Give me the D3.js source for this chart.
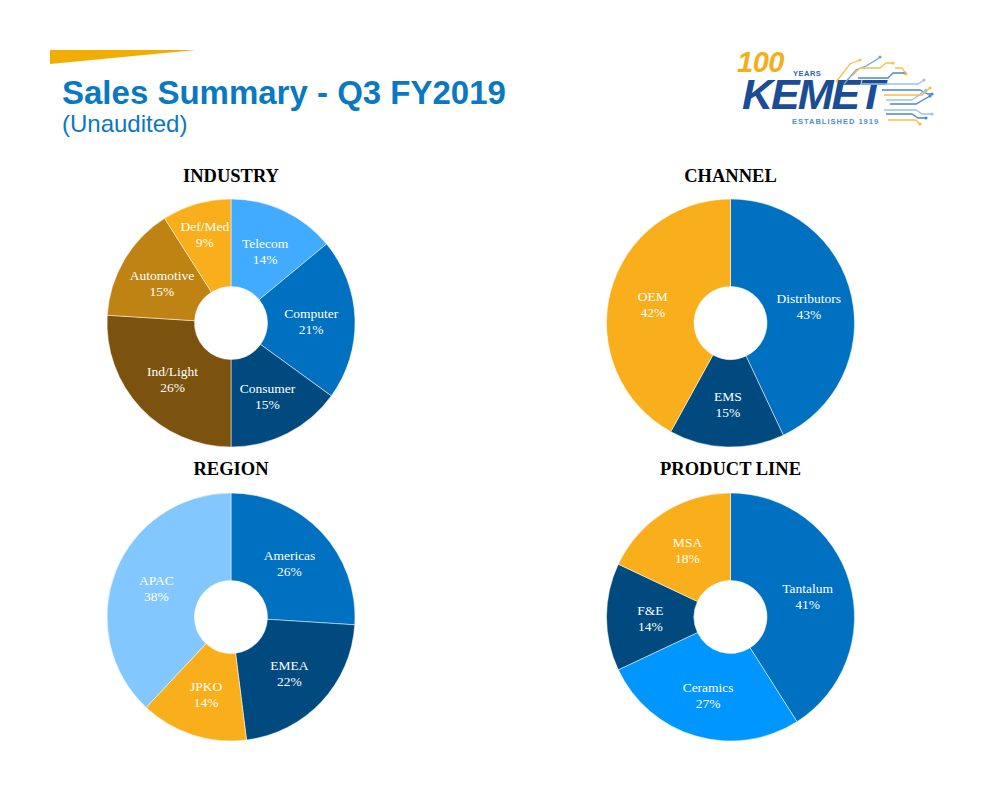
<!DOCTYPE html>
<html>
<head>
<meta charset="utf-8">
<script src="https://cdn.jsdelivr.net/npm/d3@7"></script>
<style>
  body { margin: 0; background: #fff; }
  svg { display: block; }
</style>
</head>
<body>
<div id="chart"></div>
<script>
// chart values
var industryLabels = ["Telecom", "Computer", "Consumer", "Ind/Light", "Automotive", "Def/Med"];
var industryValues = [14, 21, 15, 26, 15, 9];
var channelLabels = ["Distributors", "EMS", "OEM"];
var channelValues = [43, 15, 42];
var regionLabels = ["Americas", "EMEA", "JPKO", "APAC"];
var regionValues = [26, 22, 14, 38];
var productLabels = ["Tantalum", "Ceramics", "F&E", "MSA"];
var productValues = [41, 27, 14, 18];

var svgWidth = 984;
var svgHeight = 797;

var svg = d3.select("#chart")
    .append("svg")
    .attr("width", svgWidth)
    .attr("height", svgHeight);

// yellow wedge above the title
svg.append("path")
    .attr("d", "M50,50 L196,50 L50,64 Z")
    .attr("fill", "#F2AE00");

svg.append("text")
    .attr("x", 62)
    .attr("y", 104)
    .attr("font-family", "Liberation Sans, Arial, sans-serif")
    .attr("font-weight", "bold")
    .attr("font-size", 33)
    .attr("fill", "#0B78C2")
    .text("Sales Summary - Q3 FY2019");

svg.append("text")
    .attr("x", 62)
    .attr("y", 132)
    .attr("font-family", "Liberation Sans, Arial, sans-serif")
    .attr("font-size", 24)
    .attr("fill", "#0B78C2")
    .text("(Unaudited)");

// logo
var logo = svg.append("g");
logo.append("text")
    .attr("x", 737).attr("y", 72)
    .attr("font-family", "Liberation Sans, Arial, sans-serif")
    .attr("font-weight", "bold").attr("font-style", "italic")
    .attr("font-size", 29).attr("letter-spacing", -0.5)
    .attr("fill", "#F2AE1C")
    .text("100");
logo.append("text")
    .attr("x", 793).attr("y", 76)
    .attr("font-family", "Liberation Sans, Arial, sans-serif")
    .attr("font-weight", "bold")
    .attr("font-size", 7.5).attr("letter-spacing", 0.5)
    .attr("fill", "#2E68B0")
    .text("YEARS");
logo.append("text")
    .attr("x", 742).attr("y", 109)
    .attr("font-family", "Liberation Sans, Arial, sans-serif")
    .attr("font-weight", "bold").attr("font-style", "italic")
    .attr("font-size", 43).attr("letter-spacing", -2)
    .attr("fill", "#1A4D96")
    .text("KEMET");
logo.append("text")
    .attr("x", 792).attr("y", 124)
    .attr("font-family", "Liberation Sans, Arial, sans-serif")
    .attr("font-weight", "bold")
    .attr("font-size", 7.5).attr("letter-spacing", 1)
    .attr("fill", "#4A90D0")
    .text("ESTABLISHED 1919");

var circuits = [
    {c: "#F5C04A", p: [[836, 82], [850, 64], [860, 60]]},
    {c: "#6FA3D8", p: [[844, 84], [856, 70], [866, 66], [876, 60], [880, 57]]},
    {c: "#F5C04A", p: [[852, 76], [860, 68], [880, 68], [886, 63], [893, 63]]},
    {c: "#4F86C6", p: [[858, 78], [888, 78], [893, 73], [905, 73]]},
    {c: "#F5C04A", p: [[895, 68], [902, 68], [906, 74]]},
    {c: "#9CC3E8", p: [[862, 84], [918, 84], [924, 80]]},
    {c: "#4F86C6", p: [[882, 90], [920, 90], [928, 94], [932, 94]]},
    {c: "#F5C04A", p: [[884, 95], [922, 95], [930, 88]]},
    {c: "#9CC3E8", p: [[886, 100], [912, 100], [926, 90]]},
    {c: "#4F86C6", p: [[890, 104], [916, 104], [930, 96]]},
    {c: "#9CC3E8", p: [[884, 110], [916, 110], [922, 114], [932, 114]]},
    {c: "#4F86C6", p: [[886, 114], [912, 114], [918, 118], [926, 118]]},
    {c: "#F5C04A", p: [[888, 120], [916, 120], [920, 124]]}
];
var line = d3.line();
circuits.forEach(function(d) {
    logo.append("path")
        .attr("d", line(d.p))
        .attr("fill", "none")
        .attr("stroke", d.c)
        .attr("stroke-width", 1.3);
    var end = d.p[d.p.length - 1];
    logo.append("circle")
        .attr("cx", end[0]).attr("cy", end[1]).attr("r", 1.6)
        .attr("fill", d.c);
});

// donut charts
var outerRadius = 124;
var innerRadius = 36.5;

var pie = d3.pie().sort(null).value(function(d) { return d.value; });
var arc = d3.arc().innerRadius(innerRadius).outerRadius(outerRadius);
// narrow slices get their label pushed outward, as the original does
var narrowArc = d3.arc().innerRadius(64).outerRadius(124);

function drawDonut(title, labels, values, colors, cx, cy, titleY) {
    var data = labels.map(function(l, i) { return {label: l, value: values[i]}; });
    var g = svg.append("g").attr("transform", `translate(${cx}, ${cy})`);

    svg.append("text")
        .attr("x", cx)
        .attr("y", titleY)
        .attr("text-anchor", "middle")
        .attr("font-family", "Liberation Serif, Times New Roman, serif")
        .attr("font-weight", "bold")
        .attr("font-size", 18.5)
        .attr("fill", "#000")
        .text(title);

    var slices = pie(data);
    g.selectAll("path")
        .data(slices)
        .enter()
        .append("path")
        .attr("d", arc)
        .attr("fill", function(d, i) { return colors[i]; })
        .attr("stroke", "#fff")
        .attr("stroke-width", 0.5);

    var lbl = g.selectAll(".lbl")
        .data(slices)
        .enter()
        .append("text")
        .classed("lbl", true)
        .attr("transform", function(d) {
            var c = d.data.value < 10 ? narrowArc.centroid(d) : arc.centroid(d);
            return `translate(${c})`;
        })
        .attr("text-anchor", "middle")
        .attr("font-family", "Liberation Serif, Times New Roman, serif")
        .attr("font-size", 13.5)
        .attr("fill", "#fff");
    lbl.append("tspan")
        .attr("x", 0).attr("y", -2)
        .text(function(d) { return d.data.label; });
    lbl.append("tspan")
        .attr("x", 0).attr("y", 14)
        .text(function(d) { return d.data.value + "%"; });
}

drawDonut("INDUSTRY", industryLabels, industryValues,
    ["#41ABFF", "#0070C0", "#004A80", "#7B530E", "#BF8313", "#F9AE1B"], 231, 323, 182);
drawDonut("CHANNEL", channelLabels, channelValues,
    ["#0070C0", "#004A80", "#F9AE1B"], 730.5, 323, 182);
drawDonut("REGION", regionLabels, regionValues,
    ["#0070C0", "#004A80", "#F9AE1B", "#82C8FF"], 231, 617, 475);
drawDonut("PRODUCT LINE", productLabels, productValues,
    ["#0070C0", "#0096FF", "#004A80", "#F9AE1B"], 730.5, 617, 475);
</script>
</body>
</html>
